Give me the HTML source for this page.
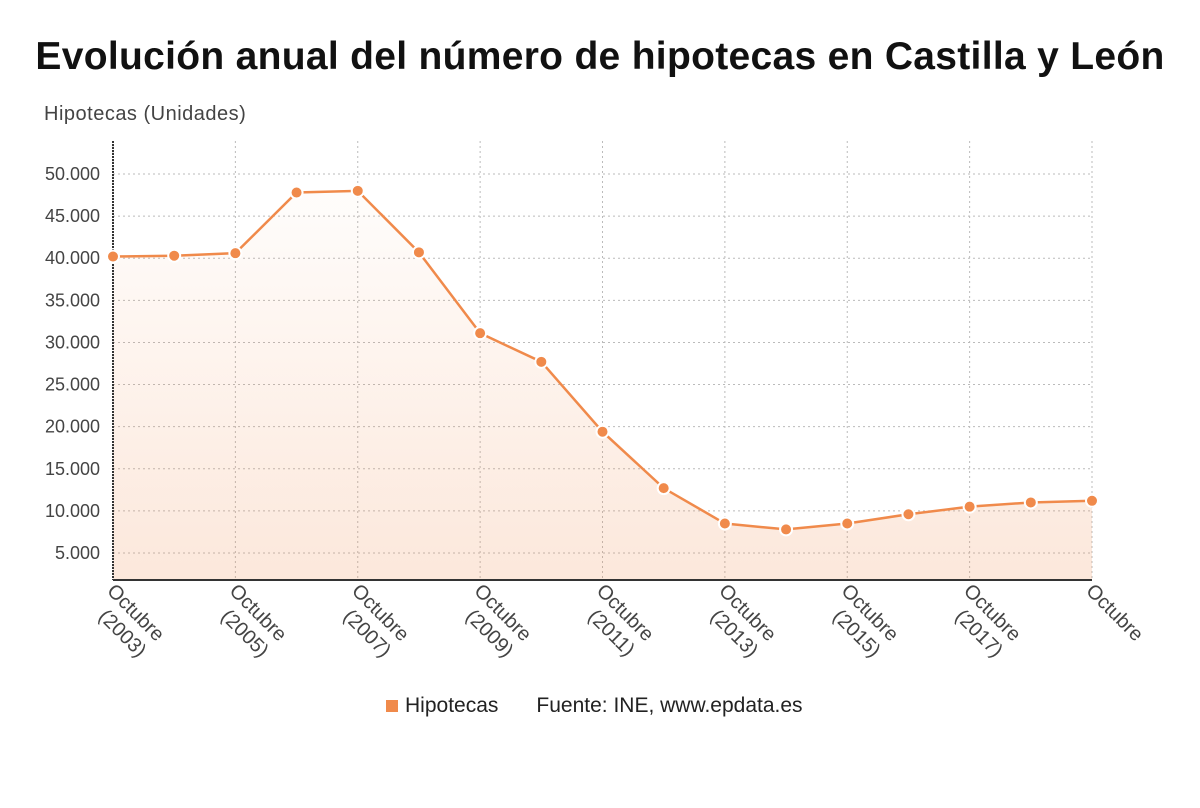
<!DOCTYPE html>
<html><head><meta charset="utf-8"><style>
body{margin:0;width:1200px;height:808px;background:#fff;overflow:hidden;font-family:"Liberation Sans","DejaVu Sans",sans-serif}
#title{position:absolute;left:0;width:1200px;top:35px;text-align:center;font-weight:bold;font-size:39px;color:#111;letter-spacing:0.3px}
#ytitle{position:absolute;left:44px;top:103px;font-size:20px;color:#444;letter-spacing:0.5px}
#legend{position:absolute;top:694px;left:386px;font-size:21px;color:#222}
</style></head><body>
<div id="title">Evolución anual del número de hipotecas en Castilla y León</div>
<div id="ytitle">Hipotecas (Unidades)</div>
<svg id="chart" width="1200" height="808" style="position:absolute;left:0;top:0">
<defs><linearGradient id="g" x1="0" y1="0" x2="0" y2="1"><stop offset="0" stop-color="#f08a4b" stop-opacity="0.02"/><stop offset="1" stop-color="#f08a4b" stop-opacity="0.2"/></linearGradient>
<clipPath id="cl"><rect x="0" y="0" width="1200" height="662"/></clipPath></defs>
</svg>
<div id="legend"><span><span style="display:inline-block;width:12px;height:12px;background:#f08a4b;margin-right:7px"></span>Hipotecas</span><span style="margin-left:38px">Fuente: INE, www.epdata.es</span></div>
<script>
const years=[2003,2004,2005,2006,2007,2008,2009,2010,2011,2012,2013,2014,2015,2016,2017,2018,2019];
const values=[40200,40300,40600,47800,48000,40700,31100,27700,19400,12700,8500,7800,8500,9600,10500,11000,11200];
const yTicks=[5000,10000,15000,20000,25000,30000,35000,40000,45000,50000];
const yTickLabels=["5.000","10.000","15.000","20.000","25.000","30.000","35.000","40.000","45.000","50.000"];
const labelYears=[2003,2005,2007,2009,2011,2013,2015,2017,2019];
const svg=document.getElementById('chart');const NS='http://www.w3.org/2000/svg';
const X0=113,X1=1092,TOP=141,BOT=580;
const x=i=>X0+(X1-X0)*i/(years.length-1);
const y=v=>553-(v-5000)*(553-174)/45000;
function mk(t,a,p){const e=document.createElementNS(NS,t);for(const k in a)e.setAttribute(k,a[k]);(p||svg).appendChild(e);return e;}
const clipG=mk('g',{'clip-path':'url(#cl)'});
yTicks.forEach((v,i)=>{
 const l=mk('line',{x1:X0,x2:X1,y1:y(v),y2:y(v),stroke:'#bbb','stroke-dasharray':'2,3'});
 
 
 const t=mk('text',{x:100,y:y(v)+6,'text-anchor':'end','font-size':18,fill:'#444'});t.textContent=yTickLabels[i];
 
 
});
labelYears.forEach(yr=>{
 const i=years.indexOf(yr);
 const l=mk('line',{x1:x(i),x2:x(i),y1:TOP,y2:BOT,stroke:'#bbb','stroke-dasharray':'2,3'});
 
 
 const g=mk('g',{transform:`translate(${x(i)-7},${BOT+12}) rotate(45)`},clipG);
 const t=mk('text',{x:0,y:0,'font-size':20,fill:'#444'},g);
 
 
 const a=mk('tspan',{x:0,dy:0},t);a.textContent='Octubre';
 if(yr!==2019){const b=mk('tspan',{x:12,dy:24},t);b.textContent='('+yr+')';}
});
let d=`M${x(0)},${BOT}`;values.forEach((v,i)=>d+=`L${x(i)},${y(v)}`);d+=`L${x(values.length-1)},${BOT}Z`;
const area=mk('path',{d:d,fill:'url(#g)'});


const line=mk('polyline',{points:values.map((v,i)=>x(i)+','+y(v)).join(' '),fill:'none',stroke:'#f08a4b','stroke-width':2.5});


mk('line',{x1:X0,x2:X0,y1:TOP,y2:BOT,stroke:'#333','stroke-width':2,'stroke-dasharray':'2,1'});
mk('line',{x1:X0,x2:X1,y1:BOT,y2:BOT,stroke:'#333','stroke-width':2});
values.forEach((v,i)=>{
 const c=mk('circle',{cx:x(i),cy:y(v),r:6,fill:'#f08a4b',stroke:'#fff','stroke-width':2});
 
 
});
</script>
</body></html>
